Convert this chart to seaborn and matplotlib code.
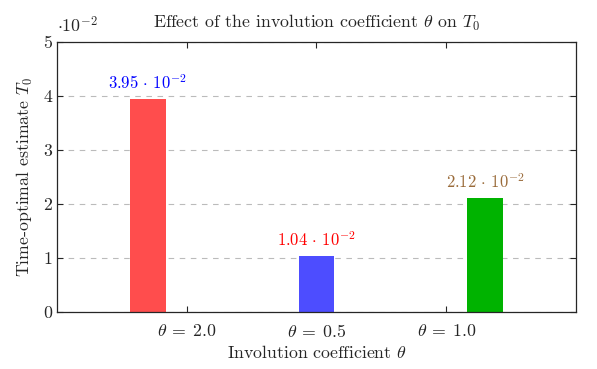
import seaborn as sns
import pandas as pd
import numpy as np
import matplotlib
matplotlib.use("Agg")
import matplotlib.pyplot as plt
from matplotlib.ticker import FuncFormatter

# data
categories = [r"$\theta\:=\:2.0$", r"$\theta\:=\:0.5$", r"$\theta\:=\:1.0$"]
series = ["s1", "s2", "s3"]
values = [0.0395, 0.0104, 0.0212]
value_labels = [r"$3.95\,\cdot\,10^{-2}$", r"$1.04\,\cdot\,10^{-2}$", r"$2.12\,\cdot\,10^{-2}$"]
bar_colors = ["#FF4D4D", "#4D4DFF", "#00B300"]
label_colors = ["#0000FF", "#FF0000", "#9A6B3A"]

sns.set_style("ticks")
plt.rcParams["font.family"] = "serif"
plt.rcParams["font.serif"] = ["cmr10", "DejaVu Serif"]
plt.rcParams["mathtext.fontset"] = "cm"
plt.rcParams["axes.unicode_minus"] = False

fs = 12.8

df = pd.DataFrame({"cat": categories, "series": series, "val": values})

fig = plt.figure(figsize=(5.97, 3.69), dpi=100)
ax = fig.add_axes([0.0955, 0.1545, 0.8693, 0.7317])

sns.barplot(data=df, x="cat", y="val", hue="series", hue_order=series,
            order=categories, palette=bar_colors, width=0.9, gap=0.08,
            dodge=True, legend=False, ax=ax, saturation=1, linewidth=0)

# value labels above bars
for cont, lab, col in zip(ax.containers, value_labels, label_colors):
    for bar in cont:
        if bar.get_height() > 0:
            ax.annotate(lab, (bar.get_x() + bar.get_width() / 2, bar.get_height()),
                        xytext=(0, 5), textcoords="offset points",
                        ha="center", va="bottom", color=col, fontsize=fs - 0.8)

ax.set_xlim(-1, 3)
ax.set_ylim(0, 0.05)
ax.set_yticks([0, 0.01, 0.02, 0.03, 0.04, 0.05])
ax.yaxis.set_major_formatter(FuncFormatter(lambda v, p: f"{v*100:.0f}"))
ax.grid(axis="y", linestyle=(0, (5, 5)), color="#BBBBBB", linewidth=0.8)
ax.set_axisbelow(True)

ax.tick_params(direction="in", top=True, right=True, length=4, labelsize=fs)
ax.tick_params(axis="x", pad=8)
for s in ax.spines.values():
    s.set_linewidth(0.9)

ax.text(0.0, 1.025, r"$\cdot10^{-2}$", transform=ax.transAxes, fontsize=fs,
        ha="left", va="bottom")

ax.set_title(r"Effect of the involution coefficient $\theta$ on $T_0$", fontsize=fs, pad=10)
ax.set_xlabel(r"Involution coefficient $\theta$", fontsize=fs, labelpad=3)
ax.set_ylabel(r"Time-optimal estimate $T_0$", fontsize=fs, labelpad=6)

fig.savefig("out.png", dpi=100)
